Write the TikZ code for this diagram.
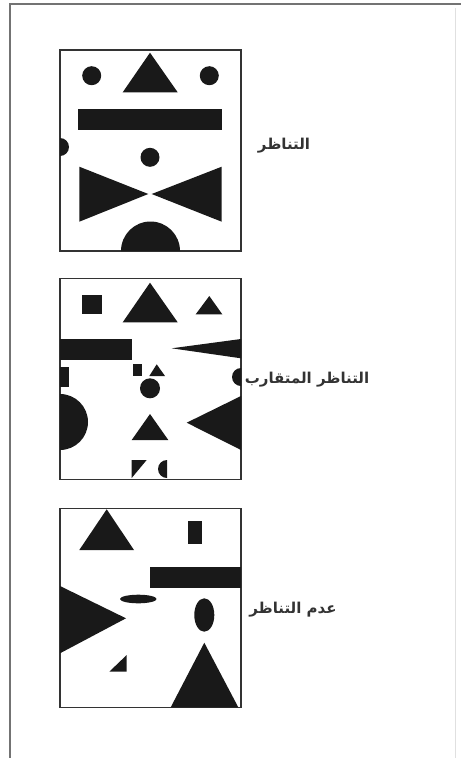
\documentclass[tikz,border=0pt]{standalone}
\usepackage{fontspec}
\newfontfamily\arabicfont[Script=Arabic]{DejaVu Sans}
\TeXXeTstate=1
\tikzset{
  panel/.style={draw=black!80, line width=1.2pt, minimum width=181pt, minimum height=201pt, inner sep=0pt},
  caption/.style={font=\arabicfont\bfseries\fontsize{15}{18}\selectfont, text=black!80, inner sep=0pt},
  blob/.style={fill=black!90},
}
\begin{document}
\begin{tikzpicture}[x=1pt,y=-1pt]
\useasboundingbox (0,0) rectangle (461,758);
% page frame
\draw[black!55, line width=2pt] (10,758) -- (10,4) -- (461,4);
\draw[black!12, line width=1pt] (455,8) -- (455,758);

% symmetric panel
\node[panel] (sym) at (150.5,150.5) {};
\fill[blob] (91.7,75.7) circle (9.5pt);
\fill[blob] (209.3,75.7) circle (9.5pt);
\fill[blob] (150,52.7) -- (177.7,92.3) -- (122.7,92.3) -- cycle;
\fill[blob] (78.3,109) rectangle (222.3,130);
\fill[blob] (60,138) arc[start angle=90, end angle=-90, radius=9pt] -- cycle;
\fill[blob] (150,157.3) circle (9.5pt);
\fill[blob] (79.3,166.7) -- (148.3,194) -- (79.3,221.7) -- cycle;
\fill[blob] (221.7,166.7) -- (151.7,194) -- (221.7,221.7) -- cycle;
\fill[blob] (121,251) arc[start angle=180, end angle=0, radius=29.5pt] -- cycle;
\node[caption] (symlbl) at (284,146) {\beginR التناظر\endR};

% near symmetry panel
\node[panel] (near) at (150.5,378.8) {};
\fill[blob] (82.3,295) rectangle (101.7,314.3);
\fill[blob] (150,282.7) -- (177.7,322.3) -- (122.7,322.3) -- cycle;
\fill[blob] (209.3,296) -- (222.3,314.3) -- (195.7,314.3) -- cycle;
\fill[blob] (60,339) rectangle (131.7,360);
\fill[blob] (171.7,348.3) -- (241,339) -- (241,358.3) -- cycle;
\fill[blob] (60,367.3) rectangle (69.3,386.7);
\fill[blob] (133.3,364.3) rectangle (141.7,376);
\fill[blob] (156.7,364.3) -- (165,376) -- (149.3,376) -- cycle;
\fill[blob] (150,388.3) circle (10pt);
\fill[blob] (241,368) arc[start angle=90, end angle=270, radius=9pt] -- cycle;
\fill[blob] (60,394) arc[start angle=90, end angle=-90, radius=28pt] -- cycle;
\fill[blob] (186.7,422.7) -- (241,396) -- (241,450) -- cycle;
\fill[blob] (150,414) -- (168.3,440) -- (131.7,440) -- cycle;
\fill[blob] (131.7,460) -- (146.7,460) -- (131.7,478) -- cycle;
\fill[blob] (167,460) arc[start angle=90, end angle=270, radius=9pt] -- cycle;
\node[caption] (nearlbl) at (307,380) {\beginR التناظر المتقارب\endR};

% asymmetric panel
\node[panel, minimum height=199pt] (asym) at (150.5,607.8) {};
\fill[blob] (106.7,509.3) -- (134,550) -- (79.3,550) -- cycle;
\fill[blob] (188.3,521) rectangle (202.3,544.3);
\fill[blob] (150,566.7) rectangle (241,588.3);
\fill[blob] (60,586) -- (126,618.3) -- (60,653.3) -- cycle;
\fill[blob] (138.3,599) ellipse [x radius=18.3pt, y radius=4.3pt];
\fill[blob] (204.3,615) ellipse [x radius=10pt, y radius=16.7pt];
\fill[blob] (109.3,671.7) -- (126.7,671.7) -- (126.7,655) -- cycle;
\fill[blob] (204.3,642.7) -- (238.3,707.3) -- (170.7,707.3) -- cycle;
\node[caption] (asymlbl) at (293,610) {\beginR عدم التناظر\endR};
\end{tikzpicture}
\end{document}
